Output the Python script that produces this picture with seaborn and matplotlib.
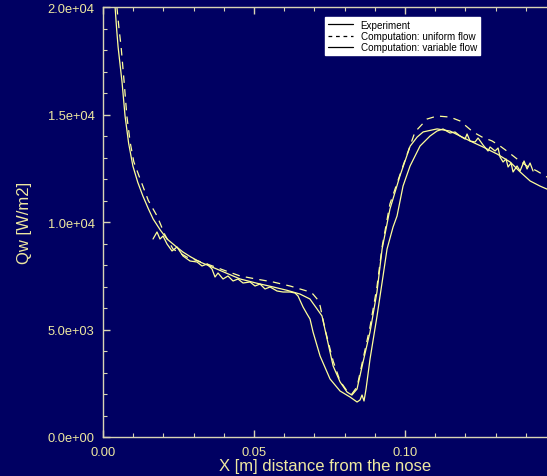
import numpy as np
import pandas as pd
import seaborn as sns
import matplotlib
matplotlib.use("Agg")
import matplotlib.pyplot as plt
from matplotlib.lines import Line2D
from matplotlib.ticker import MultipleLocator, FormatStrFormatter, FuncFormatter

# ---------------- data ----------------
exp_x = [0.01656, 0.01788, 0.01887, 0.01987, 0.02119, 0.02285, 0.02450, 0.02649, 0.02881, 0.03113,
         0.03278, 0.03444, 0.03609, 0.03709, 0.03808, 0.03974, 0.04139, 0.04305, 0.04470, 0.04636,
         0.04868, 0.05033, 0.05199, 0.05364, 0.05530, 0.05762, 0.05960, 0.06192, 0.06358, 0.06457,
         0.06623, 0.06755, 0.06854, 0.06954, 0.07187, 0.07517, 0.07848, 0.08179, 0.08411, 0.08510,
         0.08576, 0.08642, 0.08709, 0.08841, 0.09073, 0.09272, 0.09404, 0.09603, 0.09735, 0.09934,
         0.10166, 0.10497, 0.10828, 0.11060, 0.11258, 0.11490, 0.11656, 0.11821, 0.11987, 0.12053,
         0.12152, 0.12318, 0.12417, 0.12583, 0.12748, 0.12815, 0.12980, 0.13080, 0.13146, 0.13245,
         0.13344, 0.13411, 0.13510, 0.13576, 0.13709, 0.13808, 0.13940, 0.14040, 0.14139, 0.14238]
exp_q = [9209, 9535, 9209, 9349, 8977, 8651, 8837, 8419, 8186, 8140,
         7954, 8047, 7814, 7442, 7628, 7349, 7488, 7256, 7349, 7163,
         7209, 7023, 7116, 6884, 6977, 6791, 6744, 6744, 6698, 6558,
         6047, 5721, 5488, 4884, 3767, 2698, 2140, 1860, 1628, 1721,
         1953, 1674, 2233, 3628, 5628, 7488, 8744, 9767, 10279, 11674,
         12605, 13535, 14000, 14233, 14326, 14140, 14186, 14000, 13860, 14093,
         13767, 13721, 13907, 13581, 13302, 13488, 13302, 13442, 13023, 12791,
         12930, 12558, 12744, 12326, 12605, 12372, 12837, 12465, 12744, 12372]

uni_x = [0.0046, 0.0053, 0.0060, 0.0070, 0.0079, 0.0090, 0.0102, 0.0123, 0.0150, 0.0179,
         0.0205, 0.0232, 0.0280, 0.0344, 0.0400, 0.0454, 0.0510, 0.0563, 0.0620, 0.0675,
         0.0695, 0.0710, 0.0719, 0.0735, 0.0762, 0.0785, 0.0808, 0.0824, 0.0841, 0.0861,
         0.0884, 0.0907, 0.0924, 0.0950, 0.0993, 0.1033, 0.1073, 0.1106, 0.1149, 0.1182,
         0.1225, 0.1255, 0.1288, 0.1315, 0.1341, 0.1371, 0.1404, 0.1437, 0.1470]
uni_q = [20000, 19000, 18140, 16510, 14930, 13700, 12800, 12000, 11000, 10280,
         9400, 8740, 8350, 8050, 7760, 7490, 7340, 7210, 7020, 6790,
         6650, 6400, 6090, 5020, 3530, 2600, 2140, 2000, 2330, 3630,
         5120, 6980, 8840, 10840, 12600, 14190, 14790, 14930, 14880, 14700,
         14190, 13950, 13770, 13530, 13260, 12930, 12600, 12370, 12090]

var_x = [0.0040, 0.0045, 0.0050, 0.0063, 0.0073, 0.0085, 0.0099, 0.0115, 0.0132, 0.0150,
         0.0166, 0.0190, 0.0212, 0.0240, 0.0265, 0.0290, 0.0321, 0.0377, 0.0454, 0.0510,
         0.0563, 0.0610, 0.0652, 0.0685, 0.0709, 0.0725, 0.0742, 0.0762, 0.0785, 0.0808,
         0.0824, 0.0841, 0.0861, 0.0884, 0.0907, 0.0924, 0.0950, 0.0983, 0.1017, 0.1040,
         0.1060, 0.1106, 0.1149, 0.1215, 0.1258, 0.1305, 0.1348, 0.1381, 0.1414, 0.1447, 0.1470]
var_q = [20000, 19000, 18140, 16510, 14930, 13650, 12600, 11850, 11210, 10620,
         10140, 9620, 9210, 8880, 8600, 8380, 8140, 7810, 7350, 7150,
         6980, 6820, 6650, 6420, 5950, 5630, 4560, 3300, 2560, 2090,
         1950, 2230, 3490, 4880, 6740, 8740, 10600, 12140, 13530, 13950,
         14190, 14330, 14230, 13770, 13490, 13160, 12790, 12330, 11910, 11670, 11530]

legend_labels = ["Experiment", "Computation: uniform flow", "Computation: variable flow"]
x_label = "X [m] distance from the nose"
y_label = "Qw [W/m2]"

# ---------------- style ----------------
BG = "#000062"
LINE = "#ffff99"
TXT = "#eee8a0"
SPINE = "#d8d4b4"

sns.set_style("ticks")
plt.rcParams["font.family"] = ["Liberation Sans", "DejaVu Sans"]

fig = plt.figure(figsize=(5.47, 4.77), dpi=100, facecolor=BG)
ax = fig.add_axes([103 / 547, 39 / 477, 444 / 547, 430 / 477])
ax.set_facecolor(BG)

df_exp = pd.DataFrame({"x": exp_x, "q": exp_q})
df_uni = pd.DataFrame({"x": uni_x, "q": uni_q})
df_var = pd.DataFrame({"x": var_x, "q": var_q})

sns.lineplot(data=df_exp, x="x", y="q", ax=ax, color=LINE, lw=0.9, sort=False, estimator=None)
sns.lineplot(data=df_uni, x="x", y="q", ax=ax, color=LINE, lw=0.9, sort=False, estimator=None,
             linestyle=(0, (6, 5)))
sns.lineplot(data=df_var, x="x", y="q", ax=ax, color=LINE, lw=0.9, sort=False, estimator=None)

ax.set_xlim(0, 0.147)
ax.set_ylim(0, 20000)

ax.xaxis.set_major_locator(MultipleLocator(0.05))
ax.xaxis.set_minor_locator(MultipleLocator(0.01))
ax.xaxis.set_major_formatter(FormatStrFormatter("%.2f"))
ax.yaxis.set_major_locator(MultipleLocator(5000))
ax.yaxis.set_minor_locator(MultipleLocator(1000))
ax.yaxis.set_major_formatter(FuncFormatter(lambda v, p: f"{v:.1e}"))

for s in ["left", "bottom", "top"]:
    ax.spines[s].set_color(SPINE)
    ax.spines[s].set_linewidth(1.0)
ax.spines["right"].set_visible(False)

ax.tick_params(axis="both", which="major", direction="in", length=5, width=1.0,
               color=SPINE, labelcolor=TXT, labelsize=9.3)
ax.tick_params(axis="x", which="major", pad=6.5)
ax.tick_params(axis="y", which="major", pad=6)
ax.tick_params(axis="both", which="minor", direction="in", length=3, width=0.8, color=SPINE)
ax.tick_params(axis="x", which="both", top=True, bottom=True)
ax.tick_params(axis="y", which="both", left=True, right=False)

ax.set_xlabel(x_label, color=TXT, fontsize=12, labelpad=0)
ax.set_ylabel(y_label, color=TXT, fontsize=12, labelpad=11)

handles = [Line2D([], [], color="black", lw=0.9),
           Line2D([], [], color="black", lw=0.9, linestyle=(0, (3, 3))),
           Line2D([], [], color="black", lw=0.9)]
leg = ax.legend(handles, legend_labels, loc="upper right", bbox_to_anchor=(0.849, 0.977),
                fontsize=7.1, frameon=True, fancybox=False, framealpha=1, edgecolor="white",
                facecolor="white", handlelength=2.5, handletextpad=0.8, labelspacing=0.12,
                borderpad=0.3, borderaxespad=0)
for t in leg.get_texts():
    t.set_color("black")

fig.savefig("out.png", dpi=100, facecolor=BG)
